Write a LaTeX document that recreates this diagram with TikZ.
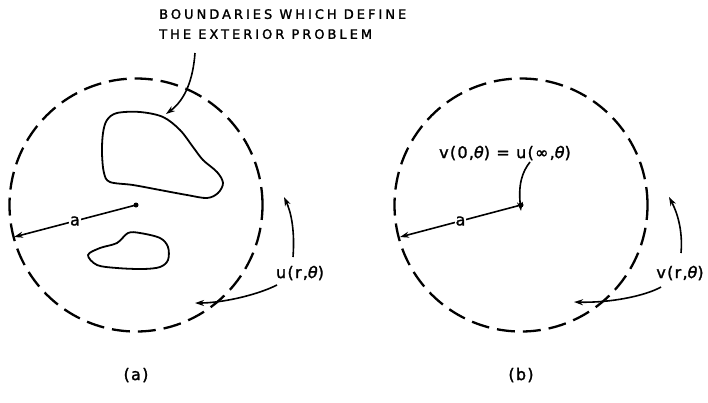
\documentclass[tikz,border=0pt]{standalone}
\usepackage{fontspec}
\setmainfont{DejaVu Sans}[FakeBold=1.6]
\usetikzlibrary{arrows.meta}

\tikzset{
  rim/.style={dash pattern=on 18pt off 8pt, line width=2.3pt},
  curve/.style={line width=1.6pt},
  blob/.style={line width=1.8pt},
  lbl/.style={font=\fontsize{16}{18}\selectfont\addfontfeature{LetterSpace=8}, inner sep=1pt},
  tip/.style={-{Stealth[length=9pt,width=6pt]}}
}
\newcommand{\thet}{{\itshape θ}}

\begin{document}
\begin{tikzpicture}[x=1pt,y=-1pt]
\useasboundingbox (0,0) rectangle (708,402);

% Circles and centres
\foreach \cx/\cy/\nm in {136/205/a,521/205/b}{
  \draw[rim] (\cx,\cy) circle[radius=126.5pt];
  \coordinate (c\nm) at (\cx,\cy);
  \fill (c\nm) circle (2.5pt);
  \node[lbl] (cap\nm) at (\cx,375) {(\nm)};
}

% Boundaries of the exterior problem
\draw[blob] plot[smooth cycle,tension=0.55] coordinates {
  (107,120) (117,113) (140,112) (163,117) (180,130) (193,147) (203,160)
  (217,172) (223,183) (218,193) (207,198) (187,195) (160,190) (133,185)
  (110,182) (104,173) (102,153) (103,133)};
\draw[blob] plot[smooth cycle,tension=0.55] coordinates {
  (88,255) (100,248) (117,243) (128,233) (140,233) (160,238) (168,247)
  (168,260) (160,267) (143,269) (117,268) (97,265)};

\node[lbl,align=left,anchor=north west,font=\fontsize{13}{20}\selectfont] (bnd) at (158,8)
  {\addfontfeature{LetterSpace=23}BOUNDARIES WHICH DEFINE\\
   \addfontfeature{LetterSpace=23}THE EXTERIOR PROBLEM};
\coordinate (bt) at (195,53);
\coordinate (bb) at (166,114);
\draw[curve,tip] (bt) .. controls (193,80) and (185,100) .. (bb);

% Radii
\coordinate (ea) at (14,237);
\coordinate (eb) at (400,237);
\draw[curve,tip] (ca) -- node[lbl,fill=white] (ra) {a} (ea);
\draw[curve,tip] (cb) -- node[lbl,fill=white] (rb) {a} (eb);

% Field labels (a)
\node[lbl] (ul) at (300,273) {u(r,\thet)};
\coordinate (ua) at (293,257);
\coordinate (uat) at (284,197);
\coordinate (ub) at (277,285);
\coordinate (ubt) at (195,303);
\draw[curve,tip] (ua) .. controls (295,230) and (291,212) .. (uat);
\draw[curve,tip] (ub) .. controls (255,296) and (220,303) .. (ubt);

% Field labels (b)
\node[lbl] (vl) at (505,153) {v(0,\thet) = u(∞,\thet)};
\coordinate (va) at (530,162);
\draw[curve,tip] (va) .. controls (522,172) and (518,185) .. ([yshift=-6pt]cb);
\node[lbl] (vr) at (680,273) {v(r,\thet)};
\coordinate (wa) at (681,253);
\coordinate (wat) at (669,197);
\coordinate (wb) at (661,287);
\coordinate (wbt) at (574,302);
\draw[curve,tip] (wa) .. controls (683,230) and (677,212) .. (wat);
\draw[curve,tip] (wb) .. controls (645,296) and (610,303) .. (wbt);
\end{tikzpicture}
\end{document}
